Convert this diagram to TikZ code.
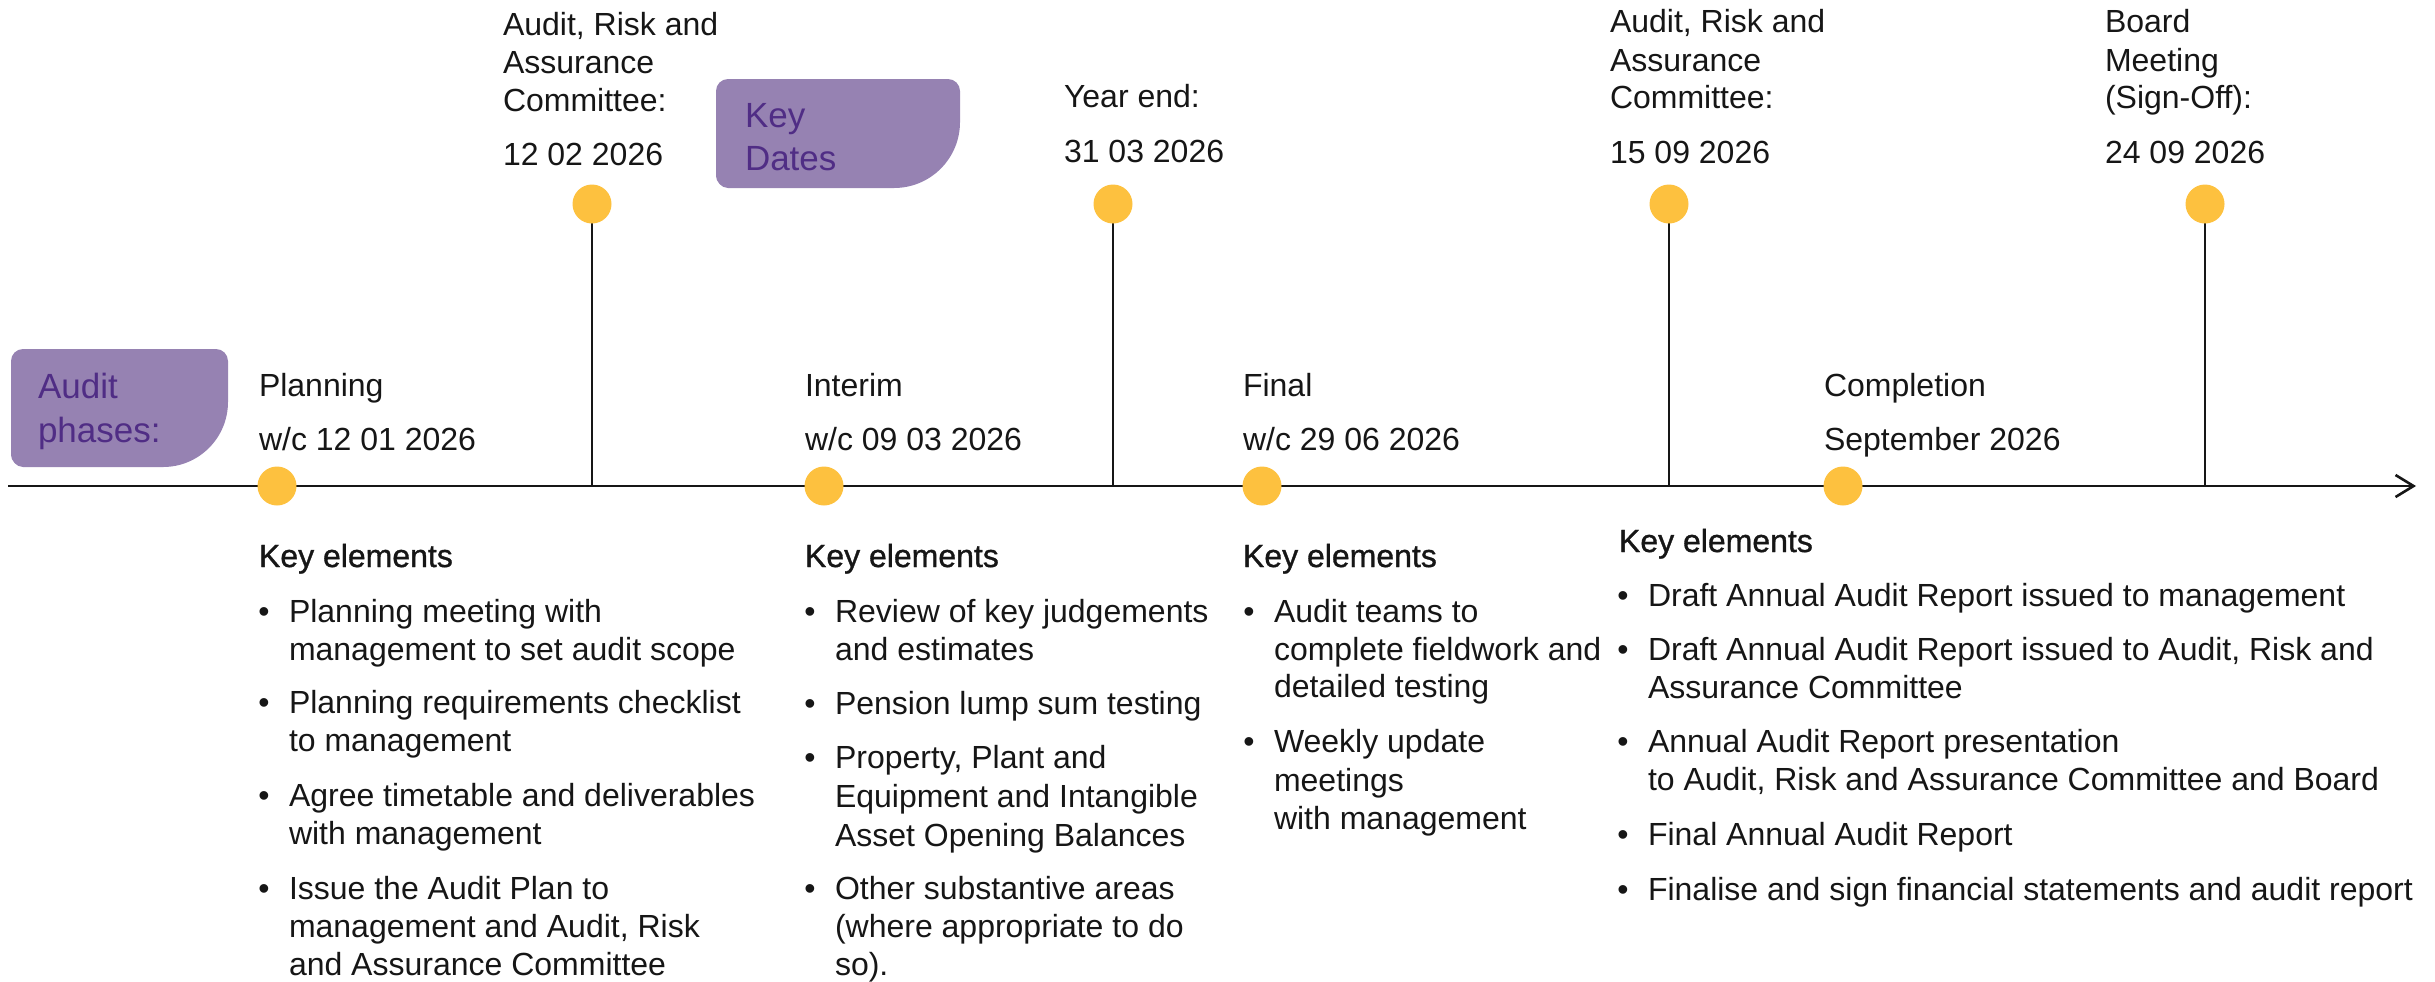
\documentclass[tikz,border=0pt]{standalone}
\usepackage{fontspec}
\setmainfont{Liberation Sans}
\newfontfamily\kefont[FakeBold=1]{Liberation Sans}
\usetikzlibrary{arrows.meta}
\definecolor{dotyellow}{RGB}{253,193,63}
\definecolor{boxfill}{RGB}{150,130,178}
\definecolor{boxtext}{RGB}{80,45,133}
\definecolor{ink}{RGB}{22,22,22}
\newcounter{tln}
\newcommand\txtat[3]{\stepcounter{tln}\node[txt] (t\arabic{tln}) at (#1,#2) {#3};}
\newcommand\bulat[3]{\stepcounter{tln}\node[bulletmark] (b\arabic{tln}) at ({#1-25},#2) {\textbullet};\txtat{#1}{#2}{#3}}
\newcommand\keat[2]{\stepcounter{tln}\node[ketxt] (ke\arabic{tln}) at (#1,#2) {Key elements};}
\begin{document}
\begin{tikzpicture}[x=0.5pt,y=-0.5pt,
  txt/.style={anchor=base west,inner sep=0pt,outer sep=0pt,text=ink,font=\fontsize{16}{19}\selectfont},
  ketxt/.style={txt,font=\kefont\fontsize{16}{19}\selectfont},
  bulletmark/.style={anchor=base,inner sep=0pt,outer sep=0pt,text=ink,font=\fontsize{16}{19}\selectfont},
  labeltxt/.style={anchor=base west,inner sep=0pt,outer sep=0pt,text=boxtext,font=\fontsize{17.5}{21}\selectfont},
  dot/.style={circle,fill=dotyellow,draw=none,minimum size=19.5pt,inner sep=0pt},
  axisline/.style={draw=ink,line width=1.3pt},
  stemline/.style={draw=ink,line width=1.3pt},
  labelbox/.style={fill=boxfill,draw=none}]
\useasboundingbox (0,0) rectangle (2435,981);

% purple label boxes
\path[labelbox] (11,361) .. controls (11,354.4) and (16.4,349) .. (23,349) -- (216,349)
  .. controls (222.6,349) and (228,354.4) .. (228,361) -- (228,402)
  .. controls (228,437.9) and (198.9,467) .. (163,467) -- (23,467)
  .. controls (16.4,467) and (11,460.4) .. (11,455) -- cycle;
\node[labeltxt] (lbA1) at (38,398) {Audit};
\node[labeltxt] (lbA2) at (38,442) {phases:};

\path[labelbox] (716,91) .. controls (716,84.4) and (721.4,79) .. (728,79) -- (948,79)
  .. controls (954.6,79) and (960,84.4) .. (960,91) -- (960,122)
  .. controls (960,158.5) and (930.5,188) .. (894,188) -- (728,188)
  .. controls (721.4,188) and (716,181.4) .. (716,176) -- cycle;
\node[labeltxt] (lbK1) at (745,127) {Key};
\node[labeltxt] (lbK2) at (745,170) {Dates};

% axis
\coordinate (axL) at (8,486);
\coordinate (axR) at (2416,486);
\draw[axisline,-{Straight Barb[length=9pt,width=11pt,line width=1.3pt]}] (axL) -- (axR);

% key date stems
\coordinate (k1c) at (592,204);
\coordinate (k2c) at (1113,204);
\coordinate (k3c) at (1669,204);
\coordinate (k4c) at (2205,204);
\draw[stemline] (k1c) -- (k1c |- axL);
\draw[stemline] (k2c) -- (k2c |- axL);
\draw[stemline] (k3c) -- (k3c |- axL);
\draw[stemline] (k4c) -- (k4c |- axL);
\node[dot] (k1) at (k1c) {};
\node[dot] (k2) at (k2c) {};
\node[dot] (k3) at (k3c) {};
\node[dot] (k4) at (k4c) {};

% phase dots
\node[dot] (p1) at (277,486) {};
\node[dot] (p2) at (824,486) {};
\node[dot] (p3) at (1262,486) {};
\node[dot] (p4) at (1843,486) {};

% key date texts
\txtat{503}{35}{Audit, Risk and}
\txtat{503}{73}{Assurance}
\txtat{503}{111}{Committee:}
\txtat{503}{165}{12 02 2026}

\txtat{1064}{107}{Year end:}
\txtat{1064}{162}{31 03 2026}

\txtat{1610}{32}{Audit, Risk and}
\txtat{1610}{71}{Assurance}
\txtat{1610}{108}{Committee:}
\txtat{1610}{163}{15 09 2026}

\txtat{2105}{32}{Board}
\txtat{2105}{71}{Meeting}
\txtat{2105}{108}{(Sign-Off):}
\txtat{2105}{163}{24 09 2026}

% phase texts
\txtat{259}{396}{Planning}
\txtat{259}{450}{w/c 12 01 2026}
\txtat{805}{396}{Interim}
\txtat{805}{450}{w/c 09 03 2026}
\txtat{1243}{396}{Final}
\txtat{1243}{450}{w/c 29 06 2026}
\txtat{1824}{396}{Completion}
\txtat{1824}{450}{September 2026}

% column 1
\keat{259}{567}
\bulat{289}{622}{Planning meeting with}
\txtat{289}{660}{management to set audit scope}
\bulat{289}{713}{Planning requirements checklist}
\txtat{289}{751}{to management}
\bulat{289}{806}{Agree timetable and deliverables}
\txtat{289}{844}{with management}
\bulat{289}{899}{Issue the Audit Plan to}
\txtat{289}{937}{management and Audit, Risk}
\txtat{289}{975}{and Assurance Committee}

% column 2
\keat{805}{567}
\bulat{835}{622}{Review of key judgements}
\txtat{835}{660}{and estimates}
\bulat{835}{714}{Pension lump sum testing}
\bulat{835}{768}{Property, Plant and}
\txtat{835}{807}{Equipment and Intangible}
\txtat{835}{846}{Asset Opening Balances}
\bulat{835}{899}{Other substantive areas}
\txtat{835}{937}{(where appropriate to do}
\txtat{835}{975}{so).}

% column 3
\keat{1243}{567}
\bulat{1274}{622}{Audit teams to}
\txtat{1274}{660}{complete fieldwork and}
\txtat{1274}{697}{detailed testing}
\bulat{1274}{752}{Weekly update}
\txtat{1274}{791}{meetings}
\txtat{1274}{829}{with management}

% column 4
\keat{1619}{552}
\bulat{1648}{606}{Draft Annual Audit Report issued to management}
\bulat{1648}{660}{Draft Annual Audit Report issued to Audit, Risk and}
\txtat{1648}{698}{Assurance Committee}
\bulat{1648}{752}{Annual Audit Report presentation}
\txtat{1648}{790}{to Audit, Risk and Assurance Committee and Board}
\bulat{1648}{845}{Final Annual Audit Report}
\bulat{1648}{900}{Finalise and sign financial statements and audit report}
\end{tikzpicture}
\end{document}
